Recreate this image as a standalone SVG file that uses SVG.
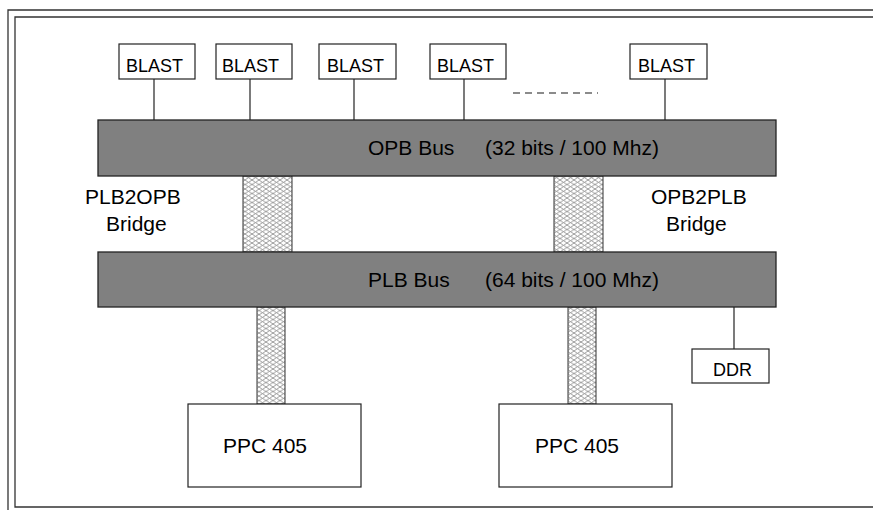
<svg xmlns="http://www.w3.org/2000/svg" width="873" height="510" viewBox="0 0 873 510">
<defs>
<pattern id="hatch" patternUnits="userSpaceOnUse" width="7" height="4.5">
<rect width="7" height="4.5" fill="#fff"/>
<path d="M0,0 L7,4.5 M0,4.5 L7,0" stroke="#808080" stroke-width="0.8" fill="none"/>
</pattern>
<style>
text{font-family:"Liberation Sans",Arial,sans-serif;fill:#000}
.box{fill:#fff;stroke:#222;stroke-width:1.2}
.bus{fill:#808080;stroke:#222;stroke-width:1.3}
.br{fill:url(#hatch);stroke:#333;stroke-width:1}
.ln{stroke:#222;stroke-width:1.2;fill:none}
.frame{stroke:#333;stroke-width:1.3;fill:none}
.s{font-size:18px}
.l{font-size:21px}
</style>
</defs>
<rect width="873" height="510" fill="#fff"/>
<g id="frame">
<path class="frame" d="M8,512 V10 H880"/>
<path class="frame" d="M880,17 H15 V507 H880"/>
</g>
<g id="connectors">
<line class="ln" x1="154" y1="79" x2="154" y2="120"/>
<line class="ln" x1="250" y1="79" x2="250" y2="120"/>
<line class="ln" x1="354" y1="79" x2="354" y2="120"/>
<line class="ln" x1="464" y1="79" x2="464" y2="120"/>
<line class="ln" x1="665" y1="79" x2="665" y2="120"/>
<line class="ln" x1="734" y1="307" x2="734" y2="349"/>
<line x1="513" y1="93" x2="598" y2="93" stroke="#666" stroke-width="1.3" stroke-dasharray="7,5"/>
</g>
<g id="blast1"><rect class="box" x="119" y="44" width="76" height="35"/><text class="s" x="126" y="72">BLAST</text></g>
<g id="blast2"><rect class="box" x="216" y="44" width="76" height="35"/><text class="s" x="222" y="72">BLAST</text></g>
<g id="blast3"><rect class="box" x="319" y="44" width="77" height="35"/><text class="s" x="327" y="72">BLAST</text></g>
<g id="blast4"><rect class="box" x="430" y="44" width="76" height="35"/><text class="s" x="437" y="72">BLAST</text></g>
<g id="blast5"><rect class="box" x="630" y="44" width="77" height="35"/><text class="s" x="638" y="72">BLAST</text></g>
<g id="plb2opb"><rect class="br" x="243" y="176" width="49" height="76"/></g>
<g id="opb2plb"><rect class="br" x="554" y="176" width="49" height="76"/></g>
<g id="ppc1-link"><rect class="br" x="257" y="307" width="28" height="97"/></g>
<g id="ppc2-link"><rect class="br" x="568" y="307" width="28" height="97"/></g>
<g id="opb-bus"><rect class="bus" x="98" y="120" width="678" height="56"/><text class="l" x="368" y="155">OPB Bus</text><text class="l" x="485" y="155">(32 bits / 100 Mhz)</text></g>
<g id="plb-bus"><rect class="bus" x="98" y="252" width="678" height="55"/><text class="l" x="368" y="287">PLB Bus</text><text class="l" x="485" y="287">(64 bits / 100 Mhz)</text></g>
<g id="label-plb2opb"><text class="l" x="85" y="204">PLB2OPB</text><text class="l" x="106" y="231">Bridge</text></g>
<g id="label-opb2plb"><text class="l" x="651" y="204">OPB2PLB</text><text class="l" x="666" y="231">Bridge</text></g>
<g id="ppc1"><rect class="box" x="188" y="404" width="173" height="83"/><text class="l" x="223" y="453">PPC 405</text></g>
<g id="ppc2"><rect class="box" x="499" y="404" width="173" height="83"/><text class="l" x="535" y="453">PPC 405</text></g>
<g id="ddr"><rect class="box" x="692" y="349" width="77" height="34"/><text class="s" x="713" y="376">DDR</text></g>
</svg>
